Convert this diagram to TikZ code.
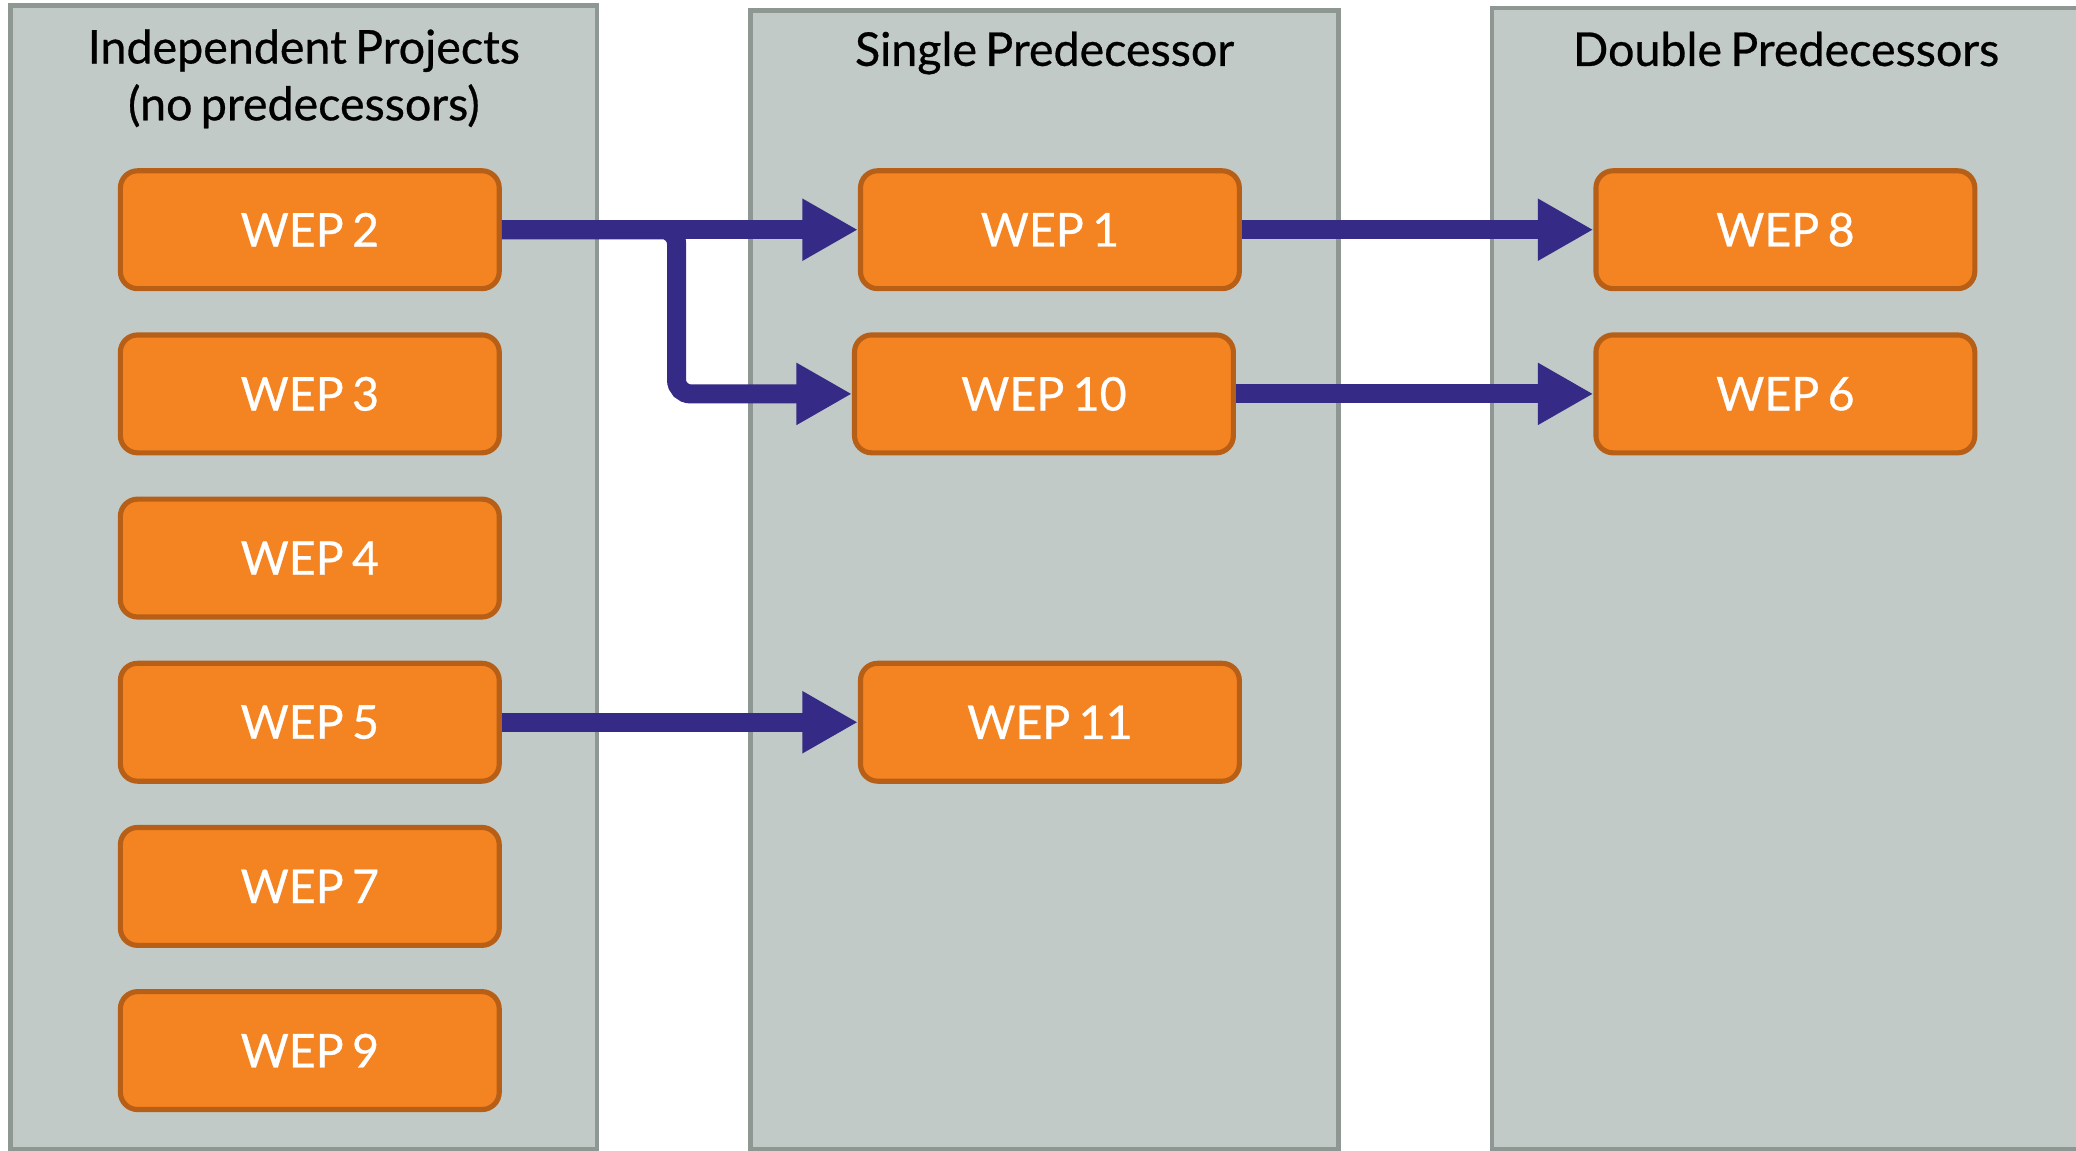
\documentclass[tikz,border=0pt]{standalone}
\usepackage{fontspec}
\setmainfont{Lato}[WordSpace=0.7, FakeBold=0.6]
\usetikzlibrary{arrows.meta}
\definecolor{laneFill}{RGB}{193,202,198}
\definecolor{laneLine}{RGB}{143,151,147}
\definecolor{wepFill}{RGB}{244,131,34}
\definecolor{wepLine}{RGB}{184,95,23}
\definecolor{flowBlue}{RGB}{53,42,133}
\begin{document}
\begin{tikzpicture}[x=0.01cm, y=-0.01cm,
  lane/.style={draw=laneLine, fill=laneFill, line width=1pt},
  head/.style={font=\fontsize{10}{12.2}\selectfont, align=center},
  wep/.style={draw=wepLine, fill=wepFill, line width=1.1pt, rounded corners=0.13cm,
    minimum width=2.86cm, minimum height=0.89cm, text=white, font=\fontsize{10}{12}\selectfont},
  flow/.style={draw=flowBlue, line width=4.1pt, -{Triangle[length=0.42cm, width=0.44cm]}}]
\useasboundingbox (0,0) rectangle (1568,869);
\clip (0,0) rectangle (1568,869);
% lanes
\path[lane] (8,4) rectangle (451,868);
\path[lane] (567,8) rectangle (1011,868);
\path[lane] (1127,6) rectangle (1571,868);
\node[head] (head1) at (229.5,59.5) {Independent Projects\\(no predecessors)};
\node[head] (head2) at (789,40) {Single Predecessor};
\node[head] (head3) at (1349,37) {Double Predecessors};
% independent
\node[wep] (wep2) at (234,173.5) {WEP 2};
\node[wep] (wep3) at (234,297.5) {WEP 3};
\node[wep] (wep4) at (234,421.5) {WEP 4};
\node[wep] (wep5) at (234,545.5) {WEP 5};
\node[wep] (wep7) at (234,669.5) {WEP 7};
\node[wep] (wep9) at (234,793.5) {WEP 9};
% single
\node[wep] (wep1) at (793,173.5) {WEP 1};
\node[wep] (wep10) at (788.5,297.5) {WEP 10};
\node[wep] (wep11) at (793,545.5) {WEP 11};
% double
\node[wep] (wep8) at (1348.5,173.5) {WEP 8};
\node[wep] (wep6) at (1348.5,297.5) {WEP 6};
% arrows
\coordinate (split) at (511,173.5);
\draw[flow] (wep2.east) -- (wep1.west);
\draw[flow, rounded corners=3pt] (wep2.east) -- (split) |- (wep10.west);
\draw[flow] (wep5.east) -- (wep11.west);
\draw[flow] (wep1.east) -- (wep8.west);
\draw[flow] (wep10.east) -- (wep6.west);
\end{tikzpicture}
\end{document}
